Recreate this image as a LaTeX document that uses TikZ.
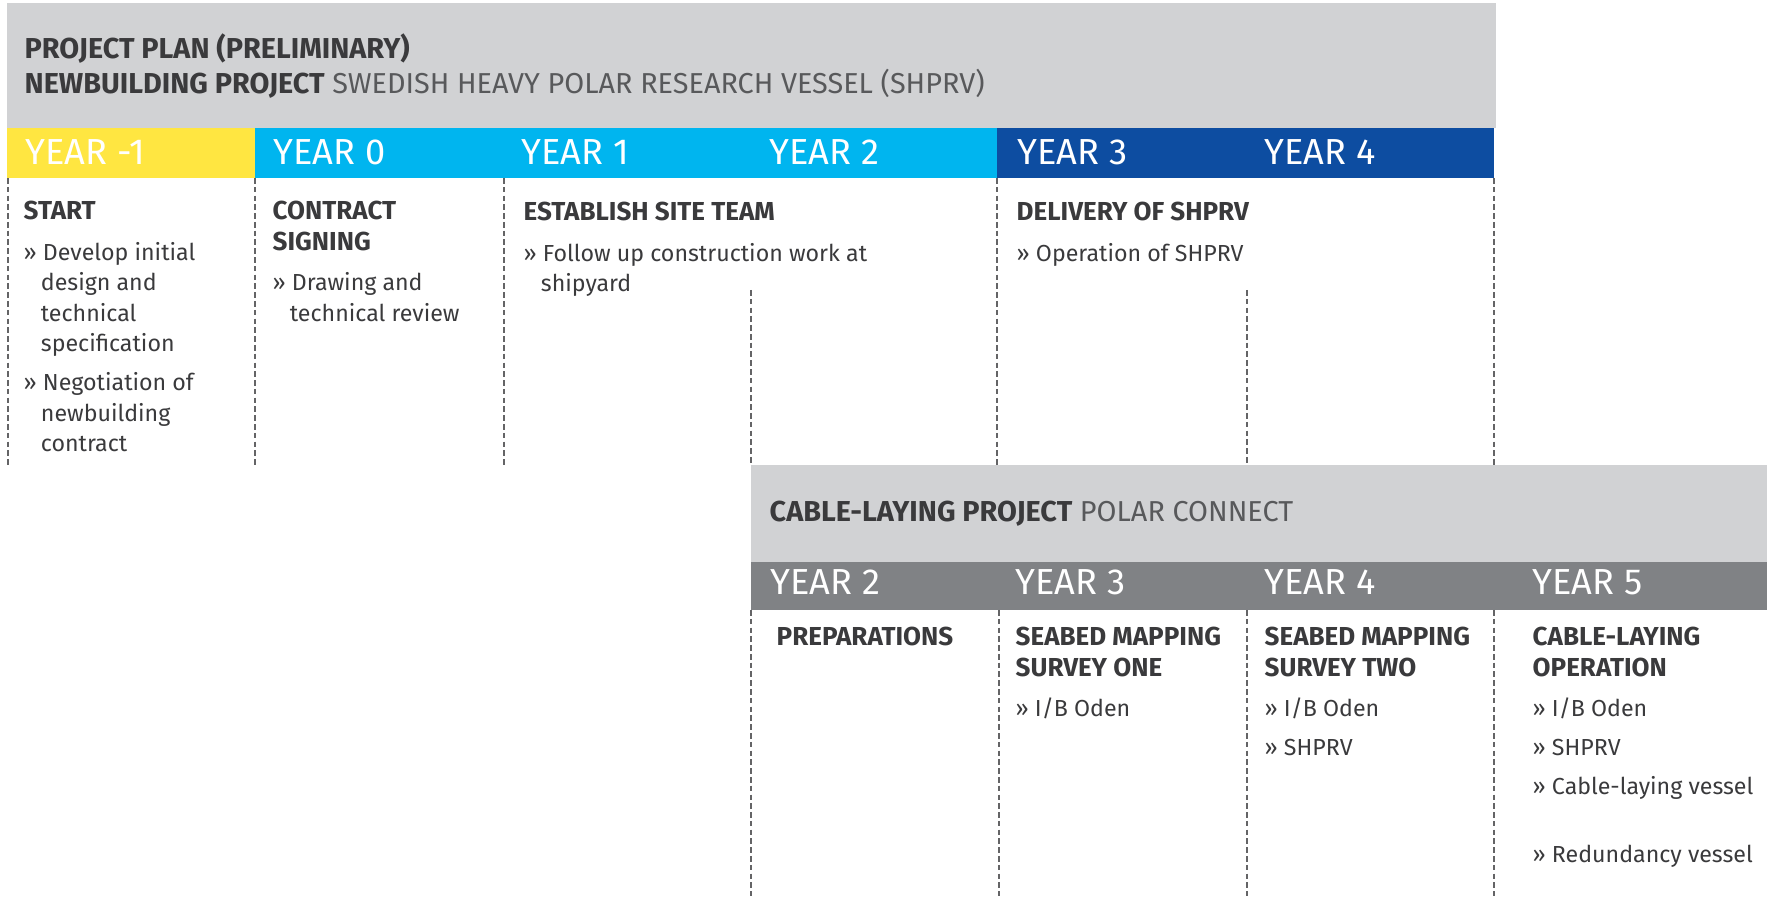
\documentclass[tikz,border=0pt]{standalone}
\usepackage{fontspec}
\setmainfont{Fira Sans}
\usepackage{xcolor}
\definecolor{planyellow}{RGB}{255,230,65}
\definecolor{plancyan}{RGB}{0,181,239}
\definecolor{planblue}{RGB}{13,77,161}
\definecolor{plangray}{RGB}{209,210,212}
\definecolor{plandark}{RGB}{128,130,133}
\definecolor{plantext}{RGB}{58,58,60}
\definecolor{plansoft}{RGB}{88,89,91}
\definecolor{planline}{RGB}{100,100,102}
\newcommand{\hang}{\hspace*{4.9pt}}
\newcommand{\hd}[1]{{\fontsize{7.4}{8.7}\selectfont\bfseries #1}}
\newcommand{\coltab}[1]{\begin{tabular}[t]{@{}l@{}}#1\end{tabular}}

\tikzset{
  titletext/.style={anchor=base west, inner sep=0pt, text=plantext, font=\fontsize{8.2}{10}\selectfont},
  yearlabel/.style={anchor=base west, inner sep=0pt, text=white, font=\fontsize{10.3}{12}\selectfont},
  coltext/.style={anchor=base west, inner sep=0pt, text=plantext, font=\fontsize{6.6}{8.7}\selectfont},
  divider/.style={draw=planline, line width=0.6pt, dash pattern=on 1.6pt off 0.9pt}
}

\begin{document}
\begin{tikzpicture}[x=0.1mm,y=-0.1mm]
\useasboundingbox (0,0) rectangle (1767,901);

% newbuilding project
\fill[plangray] (7,3) rectangle (1496,128);
\fill[planyellow] (7,128) rectangle (255,178);
\fill[plancyan] (255,128) rectangle (997,178);
\fill[planblue] (997,128) rectangle (1494,178);
\node[titletext] (plantitle) at (24,59) {\textbf{PROJECT PLAN (PRELIMINARY)}};
\node[titletext] (shprvtitle) at (24,94) {\textbf{NEWBUILDING PROJECT} \textcolor{plansoft}{SWEDISH HEAVY POLAR RESEARCH VESSEL (SHPRV)}};
\foreach \x/\yr [count=\i] in {25/-1,273/0,521/1,769/2,1017/3,1264/4}
  \node[yearlabel] (shprvyear\i) at (\x,165) {YEAR \yr};
\foreach \x in {8,255,504,997,1494}
  \draw[divider] (\x,178) -- (\x,465);
\foreach \x in {751,1247}
  \draw[divider] (\x,290) -- (\x,465);

\node[coltext] (start) at (23,220) {\coltab{\hd{START}\\[2.7pt]
  » Develop initial\\ \hang design and\\ \hang technical\\ \hang specification\\[2.4pt]
  » Negotiation of\\ \hang newbuilding\\ \hang contract}};
\node[coltext] (contract) at (272,220) {\coltab{\hd{CONTRACT}\\ \hd{SIGNING}\\[2.7pt]
  » Drawing and\\ \hang technical review}};
\node[coltext] (siteteam) at (523,221) {\coltab{\hd{ESTABLISH SITE TEAM}\\[2.7pt]
  » Follow up construction work at\\ \hang shipyard}};
\node[coltext] (delivery) at (1016,221) {\coltab{\hd{DELIVERY OF SHPRV}\\[2.7pt]
  » Operation of SHPRV}};

% cable-laying project
\fill[plangray] (751,465) rectangle (1767,562);
\fill[plandark] (751,562) rectangle (1767,610);
\node[titletext] (cabletitle) at (769,522) {\textbf{CABLE-LAYING PROJECT} \textcolor{plansoft}{POLAR CONNECT}};
\foreach \x/\yr [count=\i] in {770/2,1015/3,1264/4,1532/5}
  \node[yearlabel] (cableyear\i) at (\x,595) {YEAR \yr};
\foreach \x in {751,999,1247,1494}
  \draw[divider] (\x,610) -- (\x,896);

\node[coltext] (prep) at (776,646) {\hd{PREPARATIONS}};
\node[coltext] (surveyone) at (1015,646) {\coltab{\hd{SEABED MAPPING}\\ \hd{SURVEY ONE}\\[2.7pt]
  » I/B Oden}};
\node[coltext] (surveytwo) at (1264,646) {\coltab{\hd{SEABED MAPPING}\\ \hd{SURVEY TWO}\\[2.7pt]
  » I/B Oden\\[2.4pt] » SHPRV}};
\node[coltext] (operation) at (1532,646) {\coltab{\hd{CABLE-LAYING}\\ \hd{OPERATION}\\[2.7pt]
  » I/B Oden\\[2.4pt] » SHPRV\\[2.4pt] » Cable-laying vessel\\[10.7pt] » Redundancy vessel}};
\end{tikzpicture}
\end{document}
